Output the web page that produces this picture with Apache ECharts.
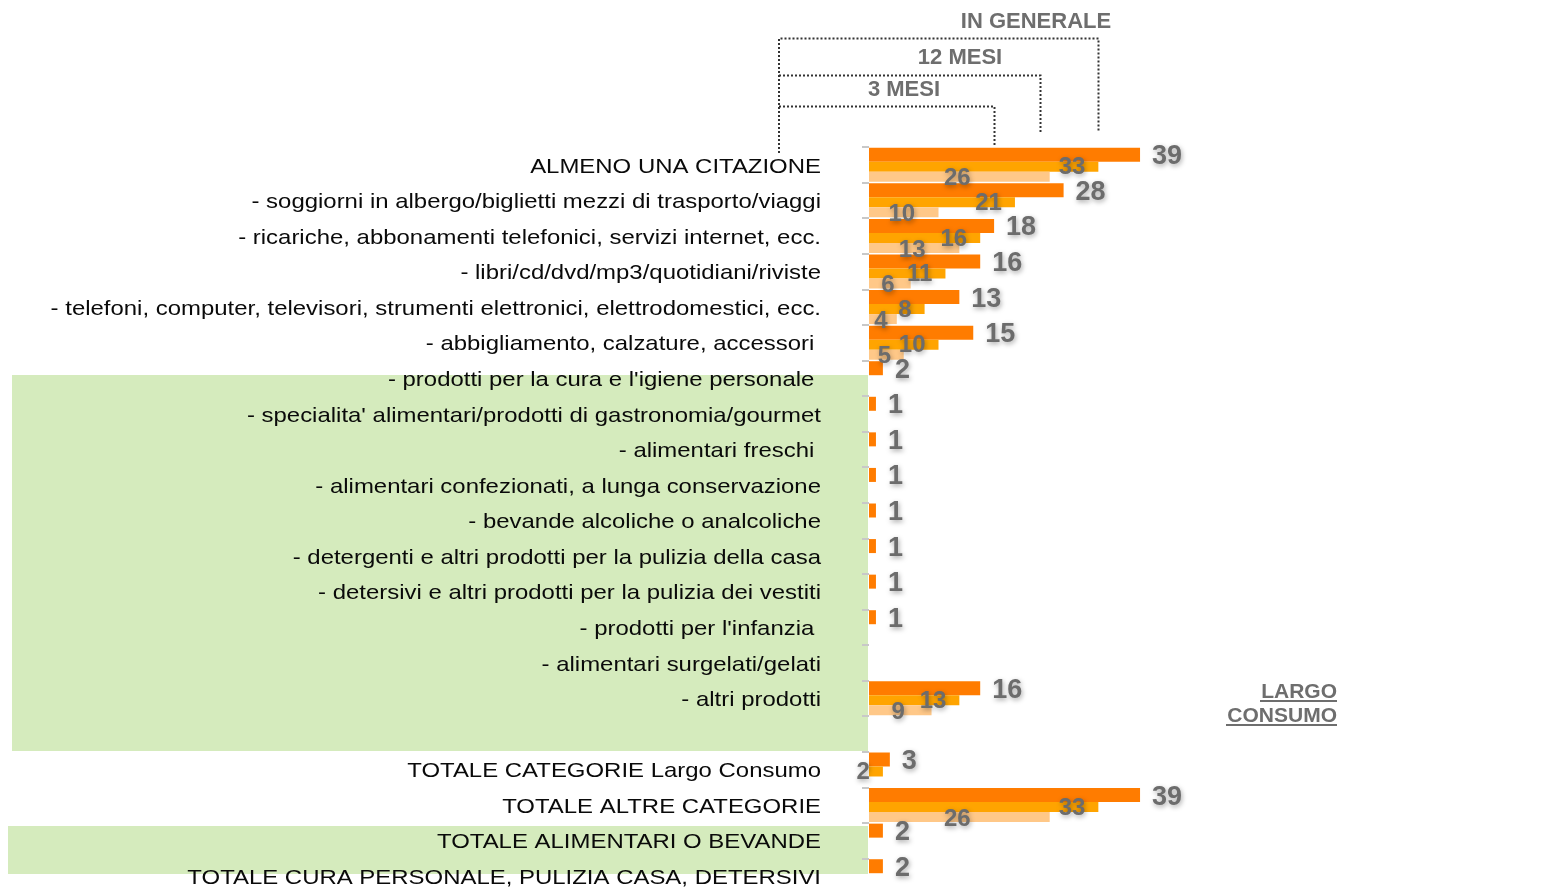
<!DOCTYPE html>
<html>
<head>
<meta charset="utf-8">
<script src="https://cdn.jsdelivr.net/npm/echarts@6/dist/echarts.min.js"></script>
<style>
  html, body { margin: 0; padding: 0; background: #fff; }
  #chart { width: 1548px; height: 889px; }
</style>
</head>
<body>
<div id="chart"></div>
<script>
// categorie (dall'alto verso il basso)
const categories = [
  'ALMENO UNA CITAZIONE',
  '- soggiorni in albergo/biglietti mezzi di trasporto/viaggi',
  '- ricariche, abbonamenti telefonici, servizi internet, ecc.',
  '- libri/cd/dvd/mp3/quotidiani/riviste',
  '- telefoni, computer, televisori, strumenti elettronici, elettrodomestici, ecc.',
  '- abbigliamento, calzature, accessori ',
  "- prodotti per la cura e l'igiene personale ",
  "- specialita' alimentari/prodotti di gastronomia/gourmet",
  '- alimentari freschi ',
  '- alimentari confezionati, a lunga conservazione',
  '- bevande alcoliche o analcoliche',
  '- detergenti e altri prodotti per la pulizia della casa',
  '- detersivi e altri prodotti per la pulizia dei vestiti',
  "- prodotti per l'infanzia ",
  '- alimentari surgelati/gelati',
  '- altri prodotti',
  '',
  'TOTALE CATEGORIE Largo Consumo',
  'TOTALE ALTRE CATEGORIE',
  'TOTALE ALIMENTARI O BEVANDE',
  'TOTALE CURA PERSONALE, PULIZIA CASA, DETERSIVI'
]

const inGenerale = [39, 28, 18, 16, 13, 15, 2, 1, 1, 1, 1, 1, 1, 1, null, 16, null, 3, 39, 2, 2]
const dodiciMesi = [33, 21, 16, 11, 8, 10, null, null, null, null, null, null, null, null, null, 13, null, 2, 33, null, null]
const treMesi = [26, 10, 13, 6, 4, 5, null, null, null, null, null, null, null, null, null, 9, null, null, 26, null, null]

const seriesNames = ['IN GENERALE', '12 MESI', '3 MESI']

const grigio = '#6c6c6c'
const ombra = {
  textShadowColor: 'rgba(0,0,0,0.35)',
  textShadowBlur: 5,
  textShadowOffsetX: 1,
  textShadowOffsetY: 2
}

const myChart = echarts.init(document.getElementById('chart'))

const option = {
  animation: false,
  textStyle: { fontFamily: 'Liberation Sans' },
  grid: { left: 869, top: 147, width: 347.5, height: 747, containLabel: false, outerBoundsMode: 'none' },
  xAxis: { type: 'value', min: 0, max: 50, show: false },
  yAxis: {
    type: 'category',
    inverse: true,
    data: categories,
    axisLine: { show: false },
    axisTick: { show: true, length: 7, lineStyle: { color: '#c8c8c8', width: 2 } },
    axisLabel: { show: false },
    splitLine: { show: false }
  },
  series: [
    {
      name: seriesNames[0],
      type: 'bar',
      data: inGenerale,
      barWidth: 14,
      barGap: 0,
      itemStyle: { color: '#ff7c00' },
      label: Object.assign({
        show: true, position: 'right', distance: 12, offset: [0, 2],
        fontSize: 27, fontWeight: 'bold', color: grigio
      }, ombra)
    },
    {
      name: seriesNames[1],
      type: 'bar',
      data: dodiciMesi,
      barWidth: 10,
      barGap: 0,
      itemStyle: { color: '#ffa400' },
      label: Object.assign({
        show: true, position: 'insideRight', distance: 13, offset: [0, 1],
        fontSize: 24, fontWeight: 'bold', color: grigio
      }, ombra)
    },
    {
      name: seriesNames[2],
      type: 'bar',
      data: treMesi,
      barWidth: 10,
      barGap: 0,
      itemStyle: { color: '#ffc888' },
      label: Object.assign({
        show: true, position: 'inside', offset: [-2, 2],
        fontSize: 24, fontWeight: 'bold', color: grigio
      }, ombra)
    }
  ]
}

myChart.setOption(option)

// decorazioni: sfondi verdi, parentesi tratteggiate, titoli
const titolo = { font: 'bold 22px "Liberation Sans"', fill: '#6e6e6e', align: 'center', verticalAlign: 'middle' }
const tratteggio = { stroke: '#333', lineWidth: 2, lineDash: [2, 2], fill: null }

const graphic = [
  { type: 'rect', z: 0, shape: { x: 12, y: 375, width: 856, height: 376 }, style: { fill: '#d5ebbd' } },
  { type: 'rect', z: 0, shape: { x: 8, y: 826, width: 860, height: 48 }, style: { fill: '#d5ebbd' } },

  { type: 'polyline', z: 5, shape: { points: [[779, 153], [779, 38.5], [1098.5, 38.5], [1098.5, 132]] }, style: tratteggio },
  { type: 'polyline', z: 5, shape: { points: [[779, 75.5], [1040.5, 75.5], [1040.5, 132]] }, style: tratteggio },
  { type: 'polyline', z: 5, shape: { points: [[779, 106.5], [994.5, 106.5], [994.5, 147]] }, style: tratteggio },

  { type: 'text', z: 5, x: 1036, y: 22, style: Object.assign({ text: seriesNames[0] }, titolo) },
  { type: 'text', z: 5, x: 960, y: 58, style: Object.assign({ text: seriesNames[1] }, titolo) },
  { type: 'text', z: 5, x: 904, y: 90, style: Object.assign({ text: seriesNames[2] }, titolo) },

  { type: 'text', z: 5, x: 1337, y: 692, style: { text: 'LARGO', font: 'bold 21px "Liberation Sans"', fill: '#6e6e6e', align: 'right', verticalAlign: 'middle' } },
  { type: 'text', z: 5, x: 1337, y: 716, style: { text: 'CONSUMO', font: 'bold 21px "Liberation Sans"', fill: '#6e6e6e', align: 'right', verticalAlign: 'middle' } },
  { type: 'line', z: 5, shape: { x1: 1260, y1: 701, x2: 1337, y2: 701 }, style: { stroke: '#6e6e6e', lineWidth: 2 } },
  { type: 'line', z: 5, shape: { x1: 1226, y1: 725, x2: 1337, y2: 725 }, style: { stroke: '#6e6e6e', lineWidth: 2 } }
]

// etichette delle categorie (testo un po' allargato come nell'originale)
categories.forEach(function (c, i) {
  if (!c) return
  const y = myChart.convertToPixel({ yAxisIndex: 0 }, i)
  graphic.push({
    type: 'text', z: 6, x: 821, y: y + 2, scaleX: 1.14,
    style: { text: c, font: '21px "Liberation Sans"', fill: '#0a0a0a', align: 'right', verticalAlign: 'middle' }
  })
})

myChart.setOption({ graphic: graphic })
</script>
</body>
</html>
